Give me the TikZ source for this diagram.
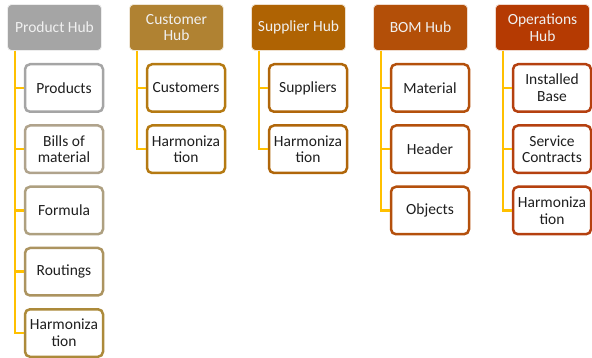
\documentclass[tikz,border=0pt]{standalone}
\usepackage{fontspec}
\setmainfont{Carlito}
\definecolor{ylw}{HTML}{FFC000}
\definecolor{hubA}{HTML}{A5A5A5}
\definecolor{hubB}{HTML}{B08232}
\definecolor{hubC}{HTML}{AF6303}
\definecolor{hubD}{HTML}{B34F08}
\definecolor{hubE}{HTML}{B53A02}
\definecolor{pA}{HTML}{A5A5A5}
\definecolor{pB}{HTML}{B0A38C}
\definecolor{pC}{HTML}{AEA080}
\definecolor{pD}{HTML}{AC9460}
\definecolor{pE}{HTML}{AC8A3A}
\definecolor{cB}{HTML}{B57A12}
\definecolor{cC}{HTML}{B0660A}
\definecolor{cD}{HTML}{B4500C}
\definecolor{cE}{HTML}{B5400F}
\tikzset{
  hub/.style={draw=white!80!#1, line width=0.8pt, fill=#1, rounded corners=4pt,
    minimum width=94pt, minimum height=46pt, inner sep=1pt, align=center,
    text=white!94!black, font=\fontsize{15.5}{16.7}\selectfont},
  child/.style={draw=#1, line width=2.5pt, fill=white, rounded corners=5pt,
    minimum width=78pt, minimum height=47.5pt, inner sep=1pt, align=center,
    text=black!88, font=\fontsize{15.5}{16.7}\selectfont},
  conn/.style={draw=ylw, line width=2.5pt}
}
\begin{document}
\begin{tikzpicture}[x=1pt,y=-1pt]
\useasboundingbox (0,0) rectangle (592,358);
% hubs
\node[hub=hubA] (h1) at (54.5,27.5) {Product Hub};
\node[hub=hubB] (h2) at (176.5,27.5) {Customer\\Hub};
\node[hub=hubC] (h3) at (298.5,27.5) {Supplier Hub};
\node[hub=hubD] (h4) at (420.5,27.5) {BOM Hub};
\node[hub=hubE] (h5) at (542.5,27.5) {Operations\\Hub};
% product children
\node[child=pA] (p1) at (64,88) {Products};
\node[child=pB] (p2) at (64,149.25) {Bills of\\material};
\node[child=pC] (p3) at (64,210.5) {Formula};
\node[child=pD] (p4) at (64,271.75) {Routings};
\node[child=pE] (p5) at (64,333) {Harmoniza\\tion};
% customer
\node[child=cB] (c1) at (186,88) {Customers};
\node[child=cB] (c2) at (186,149.25) {Harmoniza\\tion};
% supplier
\node[child=cC] (s1) at (308,88) {Suppliers};
\node[child=cC] (s2) at (308,149.25) {Harmoniza\\tion};
% bom
\node[child=cD] (b1) at (430,88) {Material};
\node[child=cD] (b2) at (430,149.25) {Header};
\node[child=cD] (b3) at (430,210.5) {Objects};
% operations
\node[child=cE] (o1) at (552,88) {Installed\\Base};
\node[child=cE] (o2) at (552,149.25) {Service\\Contracts};
\node[child=cE] (o3) at (552,210.5) {Harmoniza\\tion};
% connectors
\foreach \h/\lst in {h1/{p1,p2,p3,p4,p5}, h2/{c1,c2}, h3/{s1,s2}, h4/{b1,b2,b3}, h5/{o1,o2,o3}}{
  \coordinate (\h-top) at ([xshift=8pt]\h.south west);
  \foreach \c in \lst {
    \draw[conn] (\h-top) |- (\c.west);
  }
}
\end{tikzpicture}
\end{document}
